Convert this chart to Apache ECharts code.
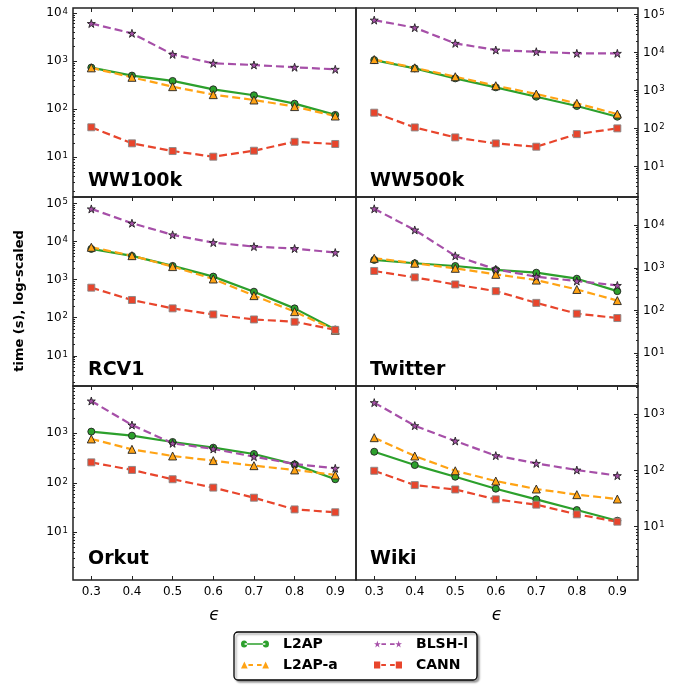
<!DOCTYPE html>
<html><head><meta charset="utf-8">
<script src="https://cdn.jsdelivr.net/npm/echarts@6/dist/echarts.min.js"></script>
<style>html,body{margin:0;padding:0;background:#fff}#c{width:691px;height:688px}</style>
</head><body><div id="c"></div>
<script>
// ---------- data ----------
const epsilon = [0.3, 0.4, 0.5, 0.6, 0.7, 0.8, 0.9];
const xTickLabels = [0.3, 0.4, 0.5, 0.6, 0.7, 0.8, 0.9];
const methods = ['L2AP', 'L2AP-a', 'BLSH-l', 'CANN'];
const panels = ['WW100k', 'WW500k', 'RCV1', 'Twitter', 'Orkut', 'Wiki'];

const ww100kL2AP  = [730, 497, 385, 258, 194, 130, 76];
const ww100kL2APa = [720, 458, 293, 200, 155, 113, 72];
const ww100kBLSH  = [6000, 3750, 1370, 895, 826, 740, 671];
const ww100kCANN  = [42, 19.5, 13.5, 10.3, 13.7, 21, 18.9];

const ww500kL2AP  = [6400, 3870, 2110, 1225, 695, 395, 207];
const ww500kL2APa = [6600, 4000, 2330, 1350, 817, 464, 243];
const ww500kBLSH  = [72000, 45500, 17600, 11750, 10600, 9600, 9600];
const ww500kCANN  = [264, 108, 59, 41, 33.6, 72, 102];

const rcv1L2AP  = [6410, 4200, 2290, 1200, 483, 176, 49];
const rcv1L2APa = [7080, 4260, 2200, 1040, 380, 144, 47];
const rcv1BLSH  = [72000, 30300, 15000, 9400, 7380, 6550, 5140];
const rcv1CANN  = [615, 292, 176, 122, 90, 78.5, 48];

const twitterL2AP  = [1528, 1274, 1100, 888, 767, 555, 284];
const twitterL2APa = [1670, 1274, 971, 702, 515, 311, 171];
const twitterBLSH  = [23900, 7640, 1900, 920, 618, 489, 386];
const twitterCANN  = [841, 596, 407, 284, 151, 84.5, 66.8];

const orkutL2AP  = [1082, 897, 668, 513, 382, 236, 118];
const orkutL2APa = [769, 475, 348, 281, 222, 182, 144];
const orkutBLSH  = [4500, 1470, 628, 483, 338, 240, 196];
const orkutCANN  = [259, 182, 118, 80, 50, 29, 25.4];

const wikiL2AP  = [216, 125, 77.6, 47.5, 30.7, 19.8, 12.8];
const wikiL2APa = [384, 181, 99, 65, 46.9, 37.2, 31.1];
const wikiBLSH  = [1615, 628, 335, 184, 134, 102, 81];
const wikiCANN  = [99, 55, 46, 30.7, 24.7, 16.6, 12.3];

const panelSeries = [
  [ww100kL2AP, ww100kL2APa, ww100kBLSH, ww100kCANN],
  [ww500kL2AP, ww500kL2APa, ww500kBLSH, ww500kCANN],
  [rcv1L2AP, rcv1L2APa, rcv1BLSH, rcv1CANN],
  [twitterL2AP, twitterL2APa, twitterBLSH, twitterCANN],
  [orkutL2AP, orkutL2APa, orkutBLSH, orkutCANN],
  [wikiL2AP, wikiL2APa, wikiBLSH, wikiCANN]
];

const yTickLabels = [
  [10, 100, 1000, 10000],
  [10, 100, 1000, 10000, 100000],
  [10, 100, 1000, 10000, 100000],
  [10, 100, 1000, 10000],
  [10, 100, 1000],
  [10, 100, 1000]
];

// ---------- layout / style ----------
const yLogRange = [[0.176, 4.10], [0.203, 5.176], [0.207, 5.17], [0.236, 4.654], [0.036, 3.956], [0.052, 3.504]];
const colLeft = [73, 356], colWidth = [283, 282];
const rowTop = [8, 197, 386], rowHeight = [189, 189, 194];
const titlePos = [[88, 172], [370, 172], [88, 361], [370, 361], [88, 550], [370, 550]];
const FONT = 'DejaVu Sans';

const STAR = 'path://M50,0 L61.2,34.5 L97.6,34.5 L68.2,55.9 L79.4,90.5 L50,69.1 L20.6,90.5 L31.8,55.9 L2.4,34.5 L38.8,34.5 Z';
const styles = [
  {color: '#2ca02c', symbol: 'circle', size: 7, border: '#222', type: 'solid'},
  {color: '#ffa314', symbol: 'triangle', size: 8, border: '#222', type: [8, 4]},
  {color: '#a64fa8', symbol: STAR, size: 8, border: '#222', type: [8, 4]},
  {color: '#e8452c', symbol: 'rect', size: 7, border: '#888', type: [8, 4]}
];

// legend icons: line with a marker at each end (matplotlib style)
const H = 7;
const circ = cx => `M${cx - 3},3.5 A3,3 0 1 0 ${cx + 3},3.5 A3,3 0 1 0 ${cx - 3},3.5 Z`;
const tri = cx => `M${cx},0.5 L${cx + 3.3},6.5 L${cx - 3.3},6.5 Z`;
const sq = cx => `M${cx - 3},0.5 L${cx + 3},0.5 L${cx + 3},6.5 L${cx - 3},6.5 Z`;
const starPts = [[50,0],[61.2,34.5],[97.6,34.5],[68.2,55.9],[79.4,90.5],[50,69.1],[20.6,90.5],[31.8,55.9],[2.4,34.5],[38.8,34.5]];
const star = cx => 'M' + starPts.map(p => `${(cx - 3.5 + p[0] * 0.07).toFixed(2)},${(0.3 + p[1] * 0.07).toFixed(2)}`).join(' L') + ' Z';
const solidLine = 'M4,2.8 L24,2.8 L24,4.2 L4,4.2 Z';
const dashLine = 'M7.5,2.7 L12,2.7 L12,4.3 L7.5,4.3 Z M16,2.7 L20.5,2.7 L20.5,4.3 L16,4.3 Z';
const legendIcons = {
  'L2AP': 'path://' + circ(3.5) + ' ' + solidLine + ' ' + circ(24.5),
  'L2AP-a': 'path://' + tri(3.5) + ' ' + dashLine + ' ' + tri(24.5),
  'BLSH-l': 'path://' + star(3.5) + ' ' + dashLine + ' ' + star(24.5),
  'CANN': 'path://' + sq(3.5) + ' ' + dashLine + ' ' + sq(24.5)
};

function powLabel(v) {
  const n = Math.round(Math.log10(v));
  return '{b|10}{s|' + n + '}';
}
const powRich = {
  b: {fontSize: 12, fontFamily: FONT, color: '#000', lineHeight: 12, verticalAlign: 'middle'},
  s: {fontSize: 8.5, fontFamily: FONT, color: '#000', lineHeight: 9, padding: [0, 0, 9, 1], verticalAlign: 'top'}
};
function minorTicks(lo, hi) {
  const out = [];
  for (let d = Math.floor(lo); d <= Math.ceil(hi); d++) {
    for (let k = 2; k <= 9; k++) {
      const v = k * Math.pow(10, d);
      const l = Math.log10(v);
      if (l > lo && l < hi) out.push(v);
    }
  }
  return out;
}

const grid = [], xAxis = [], yAxis = [], series = [], title = [];
panels.forEach((name, i) => {
  const col = i % 2, row = Math.floor(i / 2);
  const bottomRow = row === 2;
  grid.push({left: colLeft[col], top: rowTop[row], width: colWidth[col], height: rowHeight[row],
    show: true, borderColor: '#222', borderWidth: 1.5, backgroundColor: 'transparent', containLabel: false});
  xAxis.push({
    type: 'value', gridIndex: i, position: 'bottom', min: 0.255, max: 0.951,
    axisLine: {show: false}, splitLine: {show: false},
    axisTick: {show: bottomRow, inside: true, length: 4, customValues: xTickLabels, lineStyle: {color: '#222'}},
    axisLabel: {show: bottomRow, customValues: xTickLabels, margin: 6, fontSize: 12, color: '#000', fontFamily: FONT,
      formatter: v => v.toFixed(1)},
    name: bottomRow ? 'ϵ' : '', nameLocation: 'middle', nameGap: 27,
    nameTextStyle: {fontSize: 17, fontStyle: 'italic', fontFamily: FONT, color: '#000'}
  });
  xAxis.push({
    type: 'value', gridIndex: i, position: 'top', min: 0.255, max: 0.951,
    axisLine: {show: false}, splitLine: {show: false}, axisLabel: {show: false},
    axisTick: {show: true, inside: true, length: 4, customValues: xTickLabels, lineStyle: {color: '#222'}}
  });
  const lo = yLogRange[i][0], hi = yLogRange[i][1];
  const pos = col === 0 ? 'left' : 'right';
  yAxis.push({
    type: 'log', logBase: 10, gridIndex: i, position: pos,
    min: Math.pow(10, lo), max: Math.pow(10, hi),
    axisLine: {show: false}, splitLine: {show: false}, minorTick: {show: false},
    axisTick: {show: true, inside: true, length: 4, customValues: yTickLabels[i], lineStyle: {color: '#222'}},
    axisLabel: {show: true, customValues: yTickLabels[i], margin: 5, formatter: powLabel, rich: powRich}
  });
  yAxis.push({
    type: 'log', logBase: 10, gridIndex: i, position: pos,
    min: Math.pow(10, lo), max: Math.pow(10, hi),
    axisLine: {show: false}, splitLine: {show: false}, axisLabel: {show: false},
    axisTick: {show: true, inside: true, length: 2, customValues: minorTicks(lo, hi), lineStyle: {color: '#222'}}
  });
  methods.forEach((m, k) => {
    const s = styles[k];
    series.push({
      name: m, type: 'line', xAxisIndex: 2 * i, yAxisIndex: 2 * i,
      data: epsilon.map((e, j) => [e, panelSeries[i][k][j]]),
      symbol: s.symbol, symbolSize: s.size, showAllSymbol: true,
      lineStyle: {color: s.color, width: 2.2, type: s.type},
      itemStyle: {color: s.color, borderColor: s.border, borderWidth: 0.9},
      emphasis: {disabled: true}, animation: false, clip: false
    });
  });
  title.push({text: name, left: titlePos[i][0], top: titlePos[i][1], padding: 0,
    textStyle: {fontSize: 19, fontWeight: 'bold', fontFamily: FONT, color: '#000'}});
});

const legendText = {fontSize: 14, fontWeight: 'bold', fontFamily: FONT, color: '#000', padding: [0, 0, 0, 9]};
const legendBase = {orient: 'vertical', top: 637, itemWidth: 28, itemHeight: H, itemGap: 7,
  textStyle: legendText, selectedMode: false, padding: 0, symbolKeepAspect: false,
  itemStyle: {borderWidth: 0}};
const option = {
  animation: false,
  textStyle: {fontFamily: FONT},
  title: title,
  grid: grid, xAxis: xAxis, yAxis: yAxis, series: series,
  legend: [
    Object.assign({}, legendBase, {left: 241,
      data: [{name: 'L2AP', icon: legendIcons['L2AP']}, {name: 'L2AP-a', icon: legendIcons['L2AP-a']}]}),
    Object.assign({}, legendBase, {left: 374,
      data: [{name: 'BLSH-l', icon: legendIcons['BLSH-l']}, {name: 'CANN', icon: legendIcons['CANN']}]})
  ],
  graphic: [
    {type: 'rect', shape: {x: 234, y: 632, width: 243, height: 48, r: 4}, z: -1,
      style: {fill: '#fff', stroke: '#000', lineWidth: 1.3, shadowColor: 'rgba(0,0,0,0.35)', shadowOffsetX: 2, shadowOffsetY: 2, shadowBlur: 2}},
    {type: 'text', x: 20, y: 301, rotation: Math.PI / 2,
      style: {text: 'time (s), log-scaled', font: 'bold 13px "DejaVu Sans"', fill: '#000', align: 'center', verticalAlign: 'middle'}}
  ]
};
const chart = echarts.init(document.getElementById('c'), null, {renderer: 'canvas'});
chart.setOption(option);
</script></body></html>
